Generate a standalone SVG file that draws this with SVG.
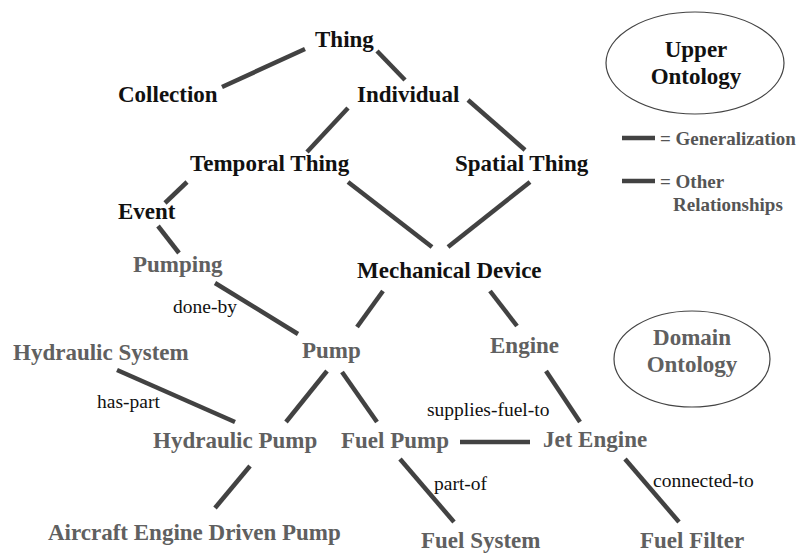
<svg xmlns="http://www.w3.org/2000/svg" width="799" height="554" viewBox="0 0 799 554" font-family="'Liberation Serif', 'DejaVu Serif', serif">
  <style>
    .bg { fill: #ffffff; }
    text { font-family: "Liberation Serif", "DejaVu Serif", serif; }
    .upper { font-size: 23px; font-weight: bold; fill: #111111; }
    .domain { font-size: 23px; font-weight: bold; fill: #606060; }
    .rel { font-size: 19.5px; fill: #111111; }
    .legend { font-size: 19px; font-weight: bold; fill: #555555; }
    .edge { stroke: #424242; stroke-width: 4.5; fill: none; }
    .oval { fill: none; stroke: #444444; stroke-width: 1.2; }
  </style>
  <rect class="bg" x="0" y="0" width="799" height="554"/>

  <!-- connectors -->
  <g id="connectors">
    <line class="edge" x1="305" y1="49" x2="222" y2="87"/>
    <line class="edge" x1="377" y1="51" x2="405" y2="80"/>
    <line class="edge" x1="348" y1="108" x2="307" y2="152"/>
    <line class="edge" x1="468" y1="100" x2="525" y2="150"/>
    <line class="edge" x1="187" y1="182" x2="165" y2="203"/>
    <line class="edge" x1="348" y1="182" x2="432" y2="247"/>
    <line class="edge" x1="530" y1="182" x2="448" y2="247"/>
    <line class="edge" x1="158" y1="226" x2="179" y2="253"/>
    <line class="edge" x1="215" y1="283" x2="298" y2="334"/>
    <line class="edge" x1="383" y1="291" x2="357" y2="327"/>
    <line class="edge" x1="490" y1="291" x2="517" y2="326"/>
    <line class="edge" x1="117" y1="370" x2="235" y2="422"/>
    <line class="edge" x1="327" y1="371" x2="286" y2="422"/>
    <line class="edge" x1="342" y1="372" x2="377" y2="422"/>
    <line class="edge" x1="546" y1="371" x2="580" y2="422"/>
    <line class="edge" x1="460" y1="442" x2="530" y2="442"/>
    <line class="edge" x1="250" y1="466" x2="215" y2="508"/>
    <line class="edge" x1="400" y1="459" x2="454" y2="522"/>
    <line class="edge" x1="625" y1="459" x2="679" y2="522"/>
  </g>

  <!-- relation labels -->
  <g id="relation-labels">
    <text class="rel" x="173" y="313">done-by</text>
    <text class="rel" x="97" y="408">has-part</text>
    <text class="rel" x="427" y="416">supplies-fuel-to</text>
    <text class="rel" x="434" y="490">part-of</text>
    <text class="rel" x="653" y="487">connected-to</text>
  </g>

  <!-- upper ontology nodes -->
  <g id="thing"><text class="upper" x="315" y="47">Thing</text></g>
  <g id="collection"><text class="upper" x="118" y="102">Collection</text></g>
  <g id="individual"><text class="upper" x="357" y="102">Individual</text></g>
  <g id="temporal-thing"><text class="upper" x="190" y="171">Temporal Thing</text></g>
  <g id="spatial-thing"><text class="upper" x="455" y="171">Spatial Thing</text></g>
  <g id="event"><text class="upper" x="118" y="219">Event</text></g>
  <g id="mechanical-device"><text class="upper" x="357" y="278">Mechanical Device</text></g>

  <!-- domain ontology nodes -->
  <g id="pumping"><text class="domain" x="133" y="272">Pumping</text></g>
  <g id="pump"><text class="domain" x="302" y="358">Pump</text></g>
  <g id="engine"><text class="domain" x="490" y="353">Engine</text></g>
  <g id="hydraulic-system"><text class="domain" x="13" y="360">Hydraulic System</text></g>
  <g id="hydraulic-pump"><text class="domain" x="153" y="448">Hydraulic Pump</text></g>
  <g id="fuel-pump"><text class="domain" x="341" y="448">Fuel Pump</text></g>
  <g id="jet-engine"><text class="domain" x="543" y="447">Jet Engine</text></g>
  <g id="aircraft-engine-driven-pump"><text class="domain" x="48" y="540">Aircraft Engine Driven Pump</text></g>
  <g id="fuel-system"><text class="domain" x="421" y="548">Fuel System</text></g>
  <g id="fuel-filter"><text class="domain" x="640" y="548">Fuel Filter</text></g>

  <!-- ontology tags -->
  <g id="upper-ontology-tag">
    <ellipse class="oval" cx="695" cy="63" rx="89" ry="51"/>
    <text class="upper" x="696" y="57" text-anchor="middle">Upper</text>
    <text class="upper" x="696" y="84" text-anchor="middle">Ontology</text>
  </g>
  <g id="domain-ontology-tag">
    <ellipse class="oval" cx="692" cy="359" rx="78" ry="48"/>
    <text class="domain" x="692" y="345" text-anchor="middle">Domain</text>
    <text class="domain" x="692" y="372" text-anchor="middle">Ontology</text>
  </g>

  <!-- legend -->
  <g id="legend">
    <line class="edge" x1="622" y1="138" x2="655" y2="138"/>
    <text class="legend" x="660" y="145">= Generalization</text>
    <line class="edge" x1="622" y1="181" x2="655" y2="181"/>
    <text class="legend" x="660" y="188">= Other</text>
    <text class="legend" x="673" y="211">Relationships</text>
  </g>
</svg>
